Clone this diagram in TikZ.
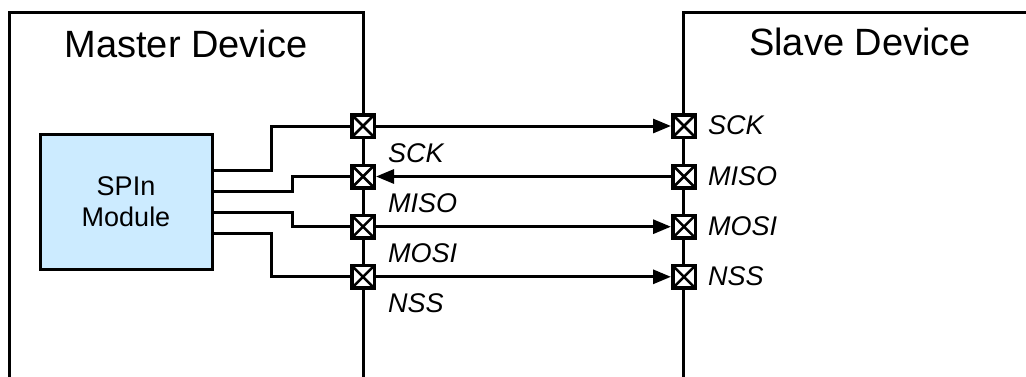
\documentclass[tikz,border=0pt]{standalone}
\usepackage{fontspec}
\setmainfont{Liberation Sans}
\usetikzlibrary{arrows.meta}
\definecolor{modfill}{HTML}{CCEBFF}
\tikzset{
  wire/.style={line width=3pt},
  boxline/.style={line width=3pt},
  pinbox/.style={draw, fill=white, line width=3.5pt, minimum width=22.5pt, minimum height=22.5pt, inner sep=0pt,
    path picture={\draw[line width=2.5pt] (path picture bounding box.south west) -- (path picture bounding box.north east)
      (path picture bounding box.north west) -- (path picture bounding box.south east);}},
  arr/.style={wire, -{Triangle[length=18pt,width=14pt]}},
  title/.style={font=\fontsize{38}{41}\selectfont, anchor=base},
  sig/.style={font=\fontsize{27}{30}\selectfont\itshape, anchor=base west, inner sep=0pt},
}
\begin{document}
\begin{tikzpicture}[x=1pt,y=-1pt]
\useasboundingbox (0,0) rectangle (1026,376);
\clip (0,0) rectangle (1026,376);
% device boxes (open)
\draw[boxline] (9.5,390) -- (9.5,12.7) -- (363,12.7) -- (363,390);
\draw[boxline] (683.5,390) -- (683.5,12.7) -- (1040,12.7);
\node[title] (mt) at (186,57) {Master Device};
\node[title] (st) at (860,55) {Slave Device};
% module
\node[draw, line width=3pt, fill=modfill, minimum width=172pt, minimum height=135pt, align=center,
  font=\fontsize{27}{31}\selectfont] (mod) at (126,201.5) {SPIn\\Module};
\coordinate (o1) at (212,170);
\coordinate (o2) at (212,191);
\coordinate (o3) at (212,212);
\coordinate (o4) at (212,233);
% pins
\foreach \i/\y in {1/126,2/176.5,3/226.7,4/276.8}{
  \node[pinbox] (mp\i) at (363,\y) {};
  \node[pinbox] (sp\i) at (684,\y) {};
}
% module to master pins
\draw[wire] (o1) -- (271,170) |- (mp1.west);
\draw[wire] (o2) -- (292,191) |- (mp2.west);
\draw[wire] (o3) -- (292,212) |- (mp3.west);
\draw[wire] (o4) -- (271,233) |- (mp4.west);
% master to slave
\draw[arr] (mp1.east) -- (sp1.west);
\draw[arr] (sp2.west) -- (mp2.east);
\draw[arr] (mp3.east) -- (sp3.west);
\draw[arr] (mp4.east) -- (sp4.west);
% labels
\node[sig] (ml1) at (388,162) {SCK};
\node[sig] (ml2) at (388,212) {MISO};
\node[sig] (ml3) at (388,262) {MOSI};
\node[sig] (ml4) at (388,312) {NSS};
\node[sig] (sl1) at (708,134) {SCK};
\node[sig] (sl2) at (708,185) {MISO};
\node[sig] (sl3) at (708,235) {MOSI};
\node[sig] (sl4) at (708,285) {NSS};
\end{tikzpicture}
\end{document}
